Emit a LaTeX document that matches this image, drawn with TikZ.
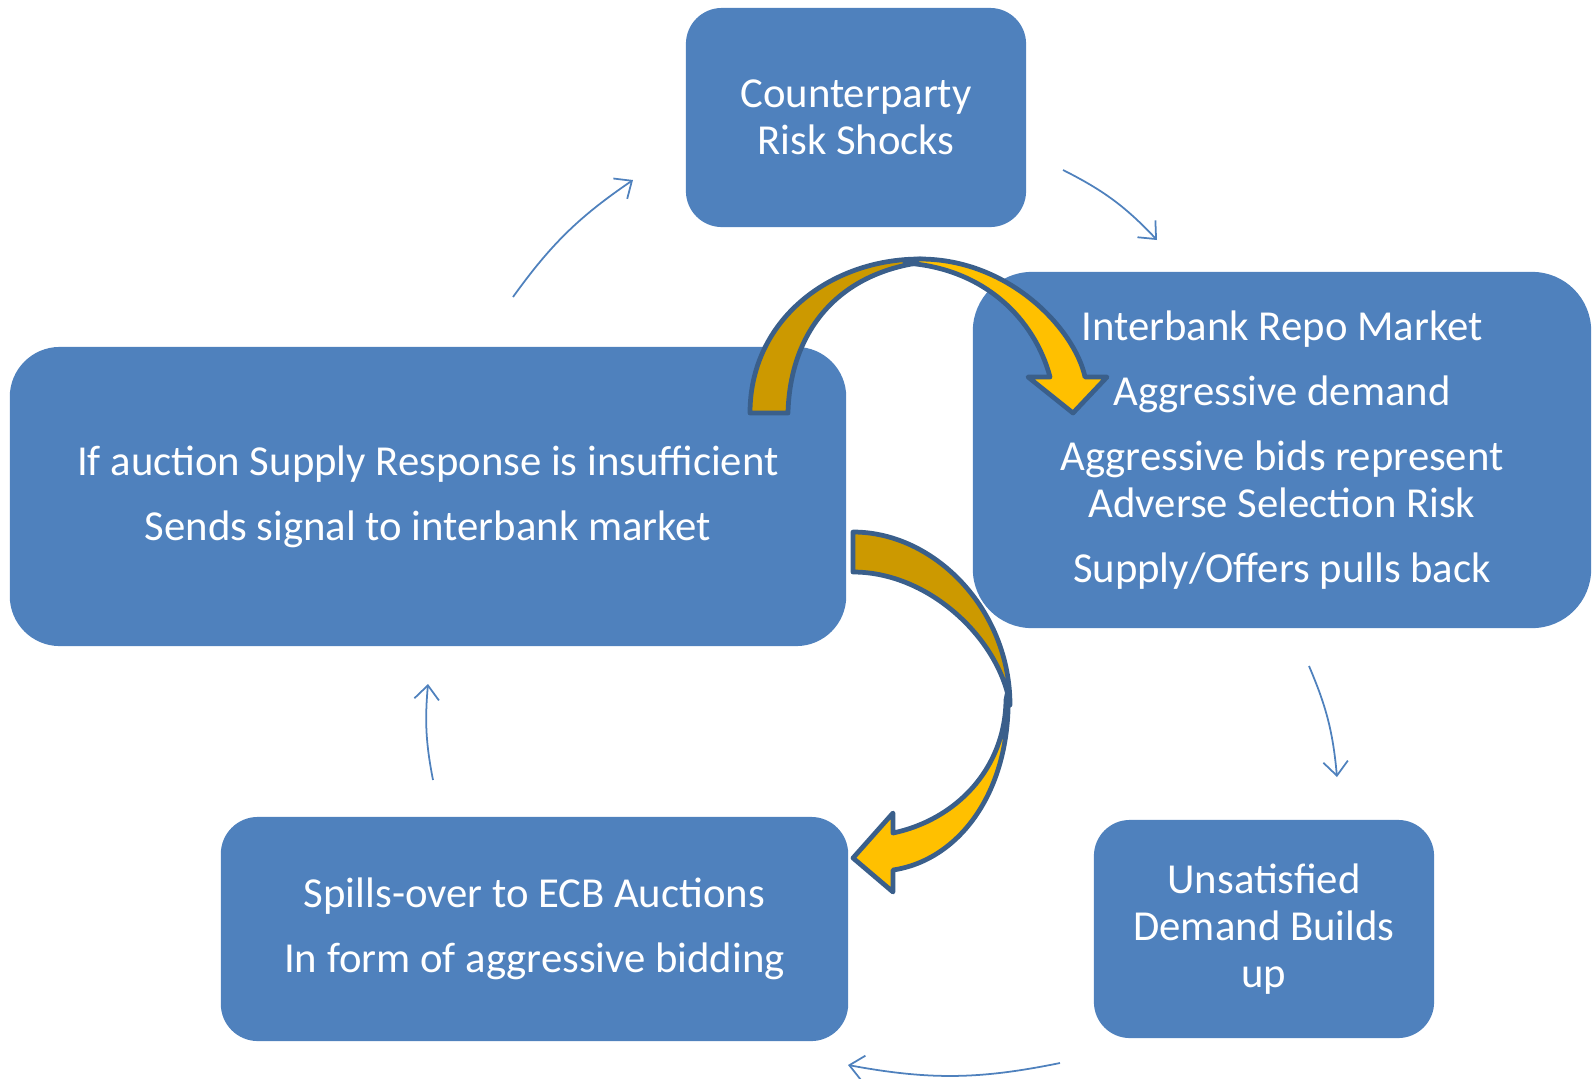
\documentclass[tikz,border=0pt]{standalone}
\usepackage{fontspec}
\setmainfont{Carlito}
\usetikzlibrary{arrows.meta}

\definecolor{boxblue}{HTML}{4F81BD}
\definecolor{arrowline}{HTML}{3A5F8B}
\definecolor{gold}{HTML}{CC9900}
\definecolor{amber}{HTML}{FFC000}

\begin{document}
\begin{tikzpicture}[
    x=0.01cm, y=-0.01cm,
    font=\fontsize{12.15}{13.3}\selectfont,
    block/.style={fill=boxblue, text=white, align=center, inner sep=0pt},
    flow/.style={-{Straight Barb[length=4pt,width=7pt]}, draw=boxblue, line width=0.5pt},
    swing/.style={draw=arrowline, line width=1.35pt, line join=round}
  ]
    \useasboundingbox (0,0) rectangle (1593,1078);

    % the five stages of the loop
    \node[block, rounded corners=0.36cm, minimum width=3.40cm, minimum height=2.19cm] (shock) at (856,117.5)
      {Counterparty\\Risk Shocks};
    \node[block, rounded corners=0.59cm, minimum width=6.18cm, minimum height=3.56cm] (repo) at (1282,450)
      {Interbank Repo Market\\[5.2pt]Aggressive demand\\[5.2pt]Aggressive bids represent\\Adverse Selection Risk\\[5.2pt]Supply/Offers pulls back};
    \node[block, rounded corners=0.36cm, minimum width=3.40cm, minimum height=2.18cm] (unmet) at (1264,929)
      {Unsatisfied\\Demand Builds\\up};
    \node[block, rounded corners=0.37cm, minimum width=6.27cm, minimum height=2.24cm] (spill) at (534.5,929)
      {Spills-over to ECB Auctions\\[5.2pt]In form of aggressive bidding};
    \node[block, rounded corners=0.50cm, minimum width=8.36cm, minimum height=2.99cm] (auction) at (428,496.5)
      {If auction Supply Response is insufficient\\[5.2pt]Sends signal to interbank market};

    % thin arrows between the stages
    \coordinate (a1) at (513,297);  \coordinate (b1) at (633,180);
    \coordinate (a2) at (1063,170); \coordinate (b2) at (1157,240);
    \coordinate (a3) at (1309,666); \coordinate (b3) at (1337,777);
    \coordinate (a4) at (1060,1063);\coordinate (b4) at (848,1065);
    \coordinate (a5) at (433,780);  \coordinate (b5) at (428,684);
    \draw[flow] (a1) to[bend left=10] (b1);
    \draw[flow] (a2) to[bend left=10] (b2);
    \draw[flow] (a3) to[bend left=9] (b3);
    \draw[flow] (a4) to[bend left=11] (b4);
    \draw[flow] (a5) to[bend left=8] (b5);

    % upper curved arrow: auction -> repo
    \filldraw[swing, fill=gold] (750,413) .. controls (750,320) and (830,259) .. (920,259) -- (935,261)
      .. controls (840,268) and (790,330) .. (788,413) -- cycle;
    \filldraw[swing, fill=amber] (905,261) -- (920,259) .. controls (1010,259) and (1075,330) .. (1085,377)
      -- (1107,377) -- (1073,413) -- (1028,377) -- (1050,377)
      .. controls (1035,320) and (985,268) .. (905,263) -- cycle;

    % lower curved arrow: auction -> spill
    \filldraw[swing, fill=gold] (853,532) .. controls (935,532) and (1010,610) .. (1010,705)
      .. controls (1000,640) and (930,572) .. (853,572) -- cycle;
    \filldraw[swing, fill=amber] (1008,690) .. controls (1012,790) and (960,860) .. (893,870)
      -- (893,892) -- (853,858) -- (893,813) -- (893,833)
      .. controls (955,820) and (1005,770) .. (1006,700) -- cycle;
\end{tikzpicture}
\end{document}
